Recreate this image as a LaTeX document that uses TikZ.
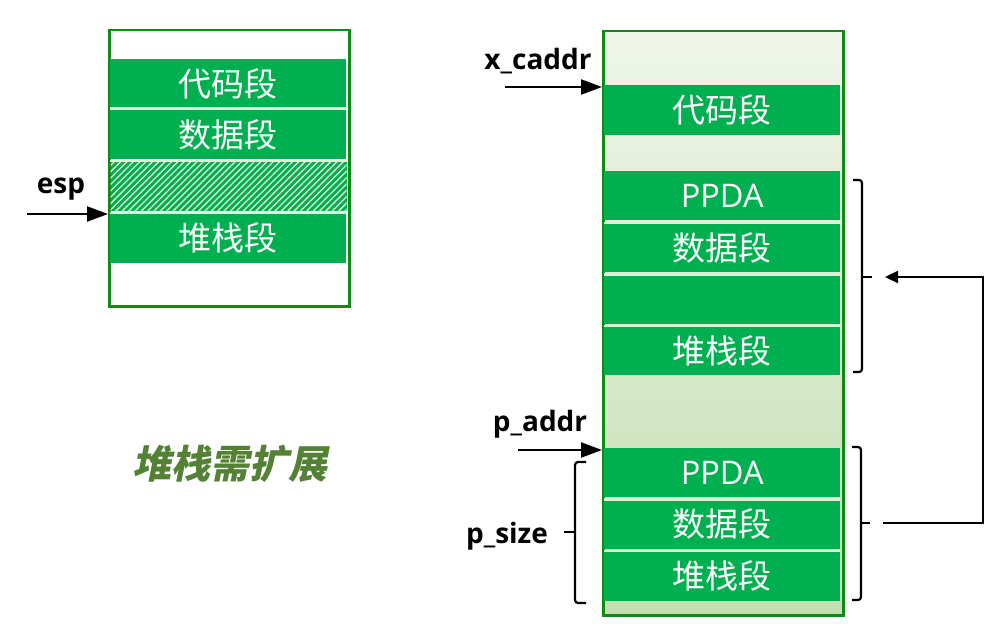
\documentclass[tikz,border=0pt]{standalone}
\usepackage{fontspec}
\setmainfont{Open Sans}
\newfontfamily\cjk{Noto Sans CJK SC}
\newfontfamily\cjktitle{Noto Sans CJK SC}[FakeSlant=0.2]
\usepackage{tikz}
\usetikzlibrary{positioning}
\usetikzlibrary{patterns.meta}
\usetikzlibrary{arrows.meta}
\usetikzlibrary{calc}

\definecolor{segGreen}{HTML}{00B050}
\definecolor{frameGreen}{RGB}{14,140,18}
\definecolor{sepLight}{HTML}{E2F0D9}
\definecolor{topLight}{HTML}{EFF6E9}
\definecolor{bottomLight}{HTML}{C3DFB0}
\definecolor{titleGreen}{HTML}{548235}

\tikzset{
  frame/.style={draw=frameGreen, line width=2.5pt, anchor=north west, inner sep=0pt, minimum width=240pt},
  slot/.style={anchor=north west, inner sep=0pt, minimum width=236pt, minimum height=49pt},
  seg/.style={slot, fill=segGreen, text=white, font=\cjk\fontsize{33}{33}\selectfont},
  ppda/.style={seg, font=\fontsize{32.5}{32.5}\selectfont},
  sepline/.style={draw=sepLight, line width=2.2pt},
  ptrlabel/.style={inner sep=0pt, font=\bfseries\fontsize{28}{28}\selectfont},
  ptr/.style={draw, line width=2.3pt, -{Triangle[length=21pt,width=15pt]}},
  bracket/.style={draw, line width=2.2pt, rounded corners=3pt}
}

\begin{document}
\begin{tikzpicture}[x=1pt, y=-1pt]
\useasboundingbox (0,0) rectangle (993,626);

% left: before growth
\node[frame, fill=white, minimum height=276pt] (lbox) at (108,29) {};
\node[seg] (lcode) at (110,59) {代码段};
\node[seg] (ldata) at (110,110) {数据段};
\node[slot, preaction={fill=segGreen}, pattern={Lines[angle=45,distance=4.5pt,line width=1.3pt]}, pattern color=sepLight] (lhatch) at (110,161) {};
\node[seg, minimum height=50pt] (lstack) at (110,213) {堆栈段};
\draw[sepline] (lcode.south west) -- (lcode.south east);
\draw[sepline] (lhatch.north west) -- (lhatch.north east);
\draw[sepline] (lstack.north west) -- (lstack.north east);

\node[ptrlabel] (esp) at (61,189) {esp};
\coordinate (espfrom) at (27,214);
\draw[ptr] (espfrom) -- (espfrom -| lbox.west);

\node[font=\cjktitle\bfseries\fontsize{39}{39}\selectfont, text=titleGreen] (grow) at (230,464) {堆栈需扩展};

% right: after growth
\node[frame, top color=topLight, bottom color=bottomLight, minimum height=584pt] (rbox) at (602,30) {};
\node[seg, minimum height=50pt] (rcode) at (604,85) {代码段};
\node[ppda] (rppda1) at (604,171) {PPDA};
\node[seg] (rdata1) at (604,223) {数据段};
\node[seg] (rgap) at (604,274.5) {};
\node[seg] (rstack1) at (604,326) {堆栈段};
\node[ppda] (rppda2) at (604,448) {PPDA};
\node[seg] (rdata2) at (604,499.5) {数据段};
\node[seg, minimum height=50pt] (rstack2) at (604,551) {堆栈段};
\draw[sepline] (rdata1.north west) -- (rdata1.north east);
\draw[sepline] (rgap.north west) -- (rgap.north east);
\draw[sepline] (rstack1.north west) -- (rstack1.north east);
\draw[sepline] (rdata2.north west) -- (rdata2.north east);
\draw[sepline] (rstack2.north west) -- (rstack2.north east);

\node[ptrlabel] (xcaddr) at (538,61) {x\_caddr};
\coordinate (xfrom) at (505,87);
\draw[ptr] (xfrom) -- (xfrom -| rbox.west);

\node[ptrlabel] (paddr) at (540,424) {p\_addr};
\coordinate (pfrom) at (518,450);
\draw[ptr] (pfrom) -- (pfrom -| rbox.west);

% brackets
\node[ptrlabel] (psize) at (507,536) {p\_size};
\coordinate (psizetop) at (586,462);
\coordinate (psizebot) at (586,603);
\coordinate (psizetip) at (564,532);
\draw[bracket] (psizetop) -- ++(-11,0) -- ($(psizebot)+(-11,0)$) -- (psizebot);
\draw[bracket] (psizetip) -- ++(11,0);

\coordinate (newtop) at (853,180);
\coordinate (newbot) at (853,372);
\coordinate (newtip) at (872,277);
\draw[bracket] (newtop) -- ++(9,0) -- ($(newbot)+(9,0)$) -- (newbot);
\draw[bracket] (newtip) -- ++(-10,0);

\coordinate (oldtop) at (852,447);
\coordinate (oldbot) at (852,600);
\coordinate (oldtip) at (870,523);
\draw[bracket] (oldtop) -- ++(9,0) -- ($(oldbot)+(9,0)$) -- (oldbot);
\draw[bracket] (oldtip) -- ++(-9,0);

\coordinate (loopx) at (983,400);
\draw[ptr, -{Triangle[length=13pt,width=12pt]}, shorten <=13pt, shorten >=13pt] (oldtip) -- (oldtip -| loopx) |- (newtip);
\end{tikzpicture}
\end{document}
